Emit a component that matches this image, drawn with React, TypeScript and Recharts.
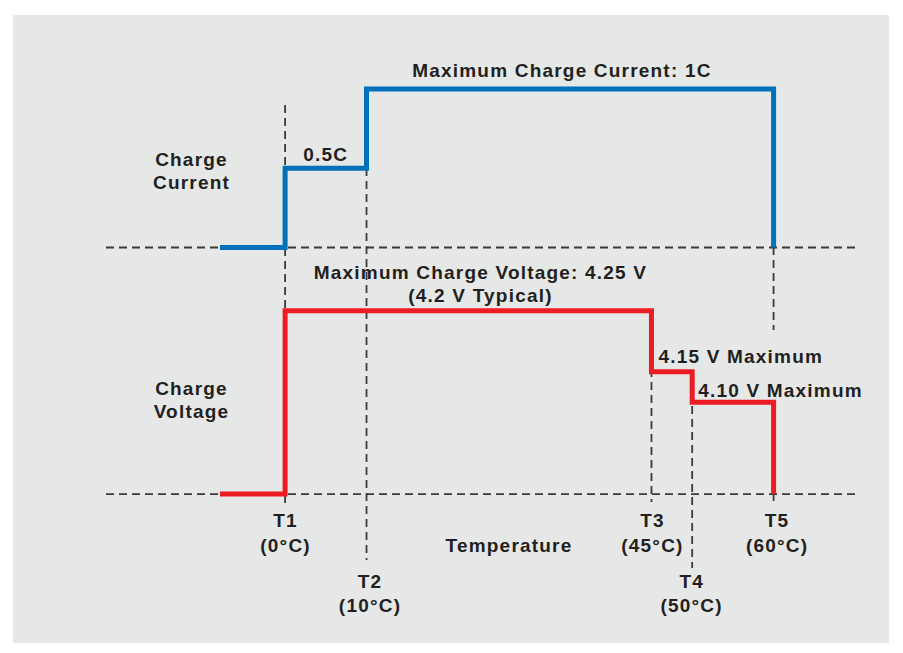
import {
  ComposedChart,
  Line,
  XAxis,
  YAxis,
  ReferenceLine,
  ReferenceDot,
} from "recharts";

// temperature marks (°C) on the x axis
const TEMP_MARKS = [0, 10, 45, 50, 60];
const TEMP_NAMES = ["T1", "T2", "T3", "T4", "T5"];
const TEMP_LABELS = ["(0°C)", "(10°C)", "(45°C)", "(50°C)", "(60°C)"];

// charge current, in C
const currentSteps = [
  { t: -8, c: 0 },
  { t: 0, c: 0.5 },
  { t: 10, c: 1 },
  { t: 60, c: 0 },
];

// charge voltage, in V (V_OFF = no charging, drawn on the baseline)
const V_OFF = 3.95;
const voltageSteps = [
  { t: -8, v: V_OFF },
  { t: 0, v: 4.25 },
  { t: 45, v: 4.15 },
  { t: 50, v: 4.1 },
  { t: 60, v: V_OFF },
];

// dashed guide spans, as % of the plot height
const guideSpans = [
  { t: 0, from: 91.96, to: 20.18 },
  { t: 10, from: 80.71, to: 10.71 },
  { t: 45, from: 44.82, to: 21.07 },
  { t: 50, from: 38.21, to: 9.29 },
  { t: 60, from: 66.61, to: 51.79 },
  { t: 60, from: 22.68, to: 21.07 },
];

const ink = "#231f20";
const dashInk = "#3a3a3a";
const textStyle = {
  fontFamily: '"Liberation Sans", Arial, sans-serif',
  fontWeight: 700,
  fontSize: 19,
  letterSpacing: 1.2,
  fill: ink,
};

function note(lines: string[], dys: number[], dx = 0, anchor: any = "middle") {
  return (props: any) => {
    const vb = props.viewBox || {};
    const cx = (vb.x ?? 0) + (vb.width ?? 0) / 2;
    const cy = (vb.y ?? 0) + (vb.height ?? 0) / 2;
    return (
      <g>
        {lines.map((s, i) => (
          <text key={i} x={cx + dx} y={cy + dys[i]} textAnchor={anchor} style={textStyle}>
            {s}
          </text>
        ))}
      </g>
    );
  };
}

const tickDy = [
  [33, 57.5],
  [93.5, 118],
  [33, 57.5],
  [93.5, 118],
  [33, 57.5],
];
const tickDx = [0.5, 3.5, 1, -0.5, 3.5];

export default function App() {
  return (
    <div style={{ position: "absolute", left: 0, top: 0, width: 903, height: 653, background: "#fff" }}>
      <div style={{ position: "absolute", left: 13, top: 15, width: 876, height: 628, background: "#e6e7e7" }}>
        <ComposedChart width={876} height={628} margin={{ top: 45, right: 34, bottom: 23, left: 93 }}>
          <XAxis type="number" dataKey="t" domain={[-22, 70]} allowDataOverflow hide />
          <YAxis yAxisId="i" type="number" domain={[-2.35, 1.183]} allowDataOverflow hide />
          <YAxis yAxisId="v" type="number" domain={[3.744, 4.66]} allowDataOverflow hide />
          <YAxis yAxisId="g" type="number" domain={[0, 100]} allowDataOverflow hide />

          <ReferenceLine yAxisId="i" y={0} stroke={dashInk} strokeWidth={1.8} strokeDasharray="8 5" />
          <ReferenceLine yAxisId="v" y={V_OFF} stroke={dashInk} strokeWidth={1.8} strokeDasharray="8 5" />
          {guideSpans.map((g, i) => (
            <ReferenceLine
              key={"g" + i}
              yAxisId="g"
              segment={[
                { x: g.t, y: g.from },
                { x: g.t, y: g.to },
              ]}
              stroke={dashInk}
              strokeWidth={1.8}
              strokeDasharray="8 5"
            />
          ))}

          <Line
            yAxisId="i"
            data={currentSteps}
            dataKey="c"
            type="stepAfter"
            stroke="#0072bc"
            strokeWidth={5}
            strokeLinejoin="miter"
            strokeLinecap="butt"
            dot={false}
            activeDot={false}
            isAnimationActive={false}
          />
          <Line
            yAxisId="v"
            data={voltageSteps}
            dataKey="v"
            type="stepAfter"
            stroke="#ed1c24"
            strokeWidth={5}
            strokeLinejoin="miter"
            strokeLinecap="butt"
            dot={false}
            activeDot={false}
            isAnimationActive={false}
          />

          {/* annotations */}
          <ReferenceDot yAxisId="i" x={34} y={1} r={0} fill="none" stroke="none"
            label={{ content: note(["Maximum Charge Current: 1C"], [-12]) }} />
          <ReferenceDot yAxisId="i" x={5} y={0.5} r={0} fill="none" stroke="none"
            label={{ content: note(["0.5C"], [-7.5]) }} />
          <ReferenceDot yAxisId="i" x={-11.5} y={0.5} r={0} fill="none" stroke="none"
            label={{ content: note(["Charge", "Current"], [-2, 21]) }} />
          <ReferenceDot yAxisId="v" x={24} y={4.25} r={0} fill="none" stroke="none"
            label={{ content: note(["Maximum Charge Voltage: 4.25 V", "(4.2 V Typical)"], [-31.4, -8.7]) }} />
          <ReferenceDot yAxisId="v" x={-11.5} y={4.15} r={0} fill="none" stroke="none"
            label={{ content: note(["Charge", "Voltage"], [23, 46]) }} />
          <ReferenceDot yAxisId="v" x={45} y={4.15} r={0} fill="none" stroke="none"
            label={{ content: note(["4.15 V Maximum"], [-8.5], 7, "start") }} />
          <ReferenceDot yAxisId="v" x={50} y={4.1} r={0} fill="none" stroke="none"
            label={{ content: note(["4.10 V Maximum"], [-5.7], 6, "start") }} />
          <ReferenceDot yAxisId="v" x={27.5} y={V_OFF} r={0} fill="none" stroke="none"
            label={{ content: note(["Temperature"], [57.5]) }} />
          {TEMP_MARKS.map((t, i) => (
            <ReferenceDot key={"t" + i} yAxisId="v" x={t} y={V_OFF} r={0} fill="none" stroke="none"
              label={{ content: note([TEMP_NAMES[i], TEMP_LABELS[i]], tickDy[i], tickDx[i]) }} />
          ))}
        </ComposedChart>
      </div>
    </div>
  );
}
